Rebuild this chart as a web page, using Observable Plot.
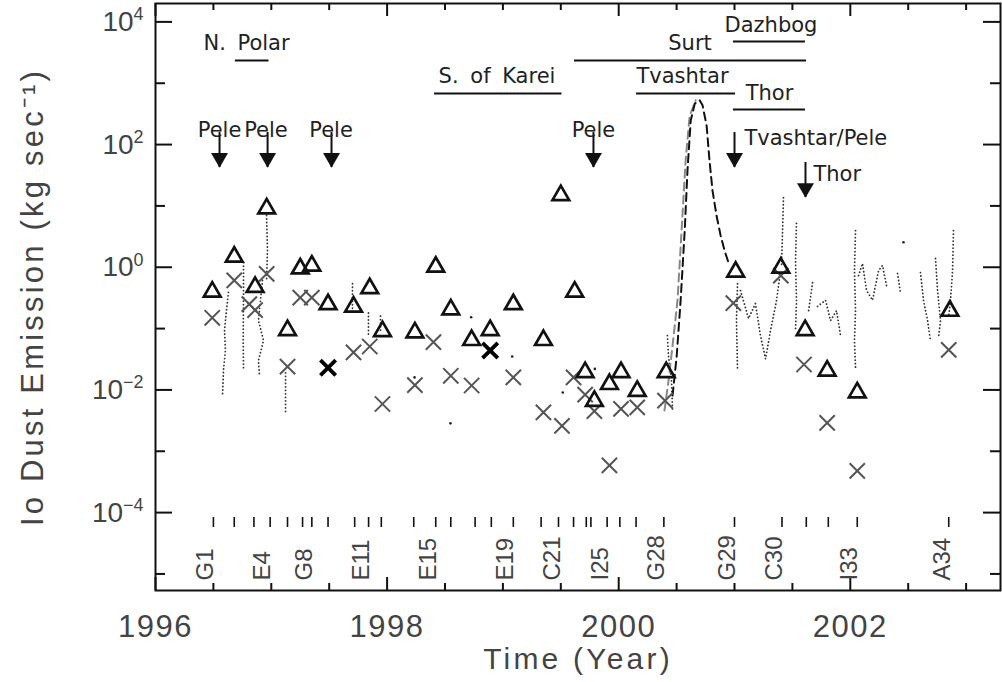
<!DOCTYPE html>
<html><head><meta charset="utf-8">
<script src="https://cdn.jsdelivr.net/npm/d3@7"></script>
<script src="https://cdn.jsdelivr.net/npm/@observablehq/plot@0.6"></script>
<style>
html,body{margin:0;padding:0;background:#fff;}
#chart svg{display:block;}
</style></head><body><div id="chart"></div>
<script>
// ---------- axis ticks ----------
const yTickMajor = [1e4, 1e2, 1, 1e-2, 1e-4];
const yTickMinor = [1e3, 10, 1e-1, 1e-3, 1e-5];
const xTickMajor = [1996, 1998, 2000, 2002];
const xTickMinor = [1996.5, 1997, 1997.5, 1998.5, 1999, 1999.5, 2000.5, 2001, 2001.5, 2002.5, 2003];

// ---------- Galileo encounters ----------
const encounterYears = [1996.50,1996.68,1996.85,1996.99,1997.14,1997.27,1997.35,1997.49,1997.72,1997.84,1997.95,
  1998.23,1998.42,1998.55,1998.76,1998.90,1999.09,1999.33,1999.48,1999.61,1999.72,1999.76,1999.90,2000.01,2000.15,
  2000.39,2001.00,2001.41,2001.62,2001.81,2002.06,2002.85];
const encounterLabels = ["G1","E4","G8","E11","E15","E19","C21","I25","G28","G29","C30","I33","A34"];
const encounterLabelYears = [1996.50,1996.99,1997.35,1997.84,1998.42,1999.09,1999.49,1999.91,2000.39,2001.00,2001.41,2002.06,2002.86];

// ---------- triangles (upper estimates) ----------
const triYears = [1996.49,1996.68,1996.86,1996.96,1997.14,1997.25,1997.35,1997.49,1997.71,1997.85,1997.96,
  1998.24,1998.42,1998.55,1998.73,1998.89,1999.09,1999.35,1999.50,1999.62,1999.71,1999.79,1999.92,2000.02,2000.16,
  2000.41,2001.01,2001.40,2001.61,2001.80,2002.06,2002.86];
const triValues = [0.37,1.37,0.44,8.4,0.087,0.88,0.98,0.23,0.21,0.42,0.084,
  0.08,0.94,0.19,0.06,0.087,0.23,0.06,13.8,0.37,0.018,0.0061,0.0115,0.018,0.0089,
  0.018,0.78,0.91,0.087,0.019,0.0084,0.18];

// ---------- crosses (lower estimates) ----------
const crossYears = [1996.49,1996.68,1996.81,1996.86,1996.96,1997.14,1997.25,1997.35,1997.49,1997.71,1997.85,1997.96,
  1998.24,1998.40,1998.55,1998.73,1998.89,1999.09,1999.35,1999.51,1999.61,1999.71,1999.79,1999.92,2000.02,2000.16,
  2000.40,2000.99,2001.40,2001.60,2001.80,2002.06,2002.85];
const crossValues = [0.15,0.61,0.25,0.20,0.78,0.024,0.32,0.32,0.023,0.041,0.051,0.0059,
  0.012,0.06,0.017,0.0118,0.044,0.016,0.0043,0.0026,0.016,0.0084,0.0045,0.00059,0.0049,0.0052,
  0.0067,0.26,0.73,0.026,0.0029,0.00048,0.045];
const boldCrossYears = [1997.49, 1998.89];

// ---------- high-resolution dust stream traces (dotted) ----------
const dustTraces = [
  [[1996.630,0.39],[1996.613,0.20],[1996.596,0.093],[1996.604,0.044],[1996.587,0.021],[1996.579,0.0087]],
  [[1996.760,1.19],[1996.760,0.29],[1996.757,0.064],[1996.760,0.022]],
  [[1996.924,0.61],[1996.889,0.135],[1996.933,0.064],[1996.889,0.030],[1996.898,0.017]],
  [[1996.959,7.0],[1996.967,1.87],[1996.959,0.61]],
  [[1997.123,0.019],[1997.123,0.0041]],
  [[1997.701,0.54],[1997.701,0.18]],
  [[1997.839,0.18],[1997.839,0.077]],
  [[1997.943,0.16],[1997.943,0.093]],
  [[2000.421,0.077],[2000.430,0.036],[2000.456,0.014],[2000.465,0.0046]],
  [[2001.026,0.54],[2001.017,0.135],[2001.026,0.0207]],
  [[2001.052,0.417],[2001.121,0.146],[2001.181,0.256],[2001.224,0.077],[2001.268,0.032],[2001.311,0.093],[2001.363,0.287],[2001.397,0.88]],
  [[2001.423,13.6],[2001.415,3.96],[2001.406,1.07]],
  [[2001.535,5.2],[2001.527,1.29],[2001.535,0.29],[2001.527,0.093]],
  [[2001.674,0.56],[2001.640,0.195]],
  [[2001.717,0.23],[2001.786,0.29],[2001.829,0.135],[2001.881,0.196],[2001.916,0.077]],
  [[2002.045,3.96],[2002.036,0.88],[2002.045,0.197],[2002.036,0.064],[2002.045,0.023]],
  [[2002.071,0.73],[2002.105,1.15],[2002.140,0.42],[2002.192,0.29],[2002.244,0.88],[2002.278,1.07],[2002.313,0.50]],
  [[2002.408,0.79],[2002.433,0.386]],
  [[2002.606,0.82],[2002.632,0.29],[2002.667,0.135],[2002.692,0.064]],
  [[2002.736,1.39],[2002.753,0.42],[2002.779,0.135],[2002.762,0.071]],
  [[2002.891,3.96],[2002.883,0.88],[2002.865,0.29],[2002.848,0.151]]
];
const dustSingles = [[1998.726,0.153],[1998.547,0.00285],[1999.080,0.035],[1998.237,0.016],[1999.517,0.0091],[1999.794,0.022],[2002.459,2.56]];

// ---------- 2000 dust storm (dashed) ----------
const stormBlack = [[2000.465,0.0081],[2000.50,0.034],[2000.535,0.29],[2000.57,3.96],[2000.594,38],[2000.622,246],[2000.657,467],[2000.70,525],
  [2000.724,436],[2000.759,205],[2000.784,55],[2000.81,17.8],[2000.845,6.9],[2000.88,3.3],[2000.914,1.87],[2000.948,1.19]];
const stormGray = [[2000.395,0.0046],[2000.43,0.014],[2000.465,0.053],[2000.508,0.29],[2000.543,3.96],[2000.578,55],[2000.613,296],[2000.665,525]];

// ---------- volcano activity annotations ----------
const spanNames = ["N. Polar","S. of Karei","Surt","Tvashtar","Dazhbog","Thor"];
const spanStart = [1996.69,1998.41,1999.618,2000.154,2000.991,2000.991];
const spanEnd   = [1996.98,1999.51,2001.622,2001.009,2001.613,2001.613];
const spanLevel = [2355,682,2355,682,4808,374];
const spanTextYear = [1996.786,1998.949,2000.616,2000.551,2001.315,2001.302];
const spanTextLevel = [3428,1000,3428,1000,6745,525];

const arrowYears  = [1996.553,1996.968,1997.520,1999.782,2001.000,2001.613];
const arrowTop    = [157,157,157,157,157,51];
const arrowBottom = [42.3,42.3,42.3,42.3,42.3,13.7];
const arrowLabels = ["Pele","Pele","Pele","Pele","Tvashtar/Pele","Thor"];
const arrowLabelYears  = [1996.553,1996.954,1997.516,1999.782,2001.086,2001.682];
const arrowLabelLevels = [131,131,131,131,96.6,25.9];
const arrowLabelAnchor = ["middle","middle","middle","middle","start","start"];

// ---------- build tables ----------
const triangles = triYears.map((x,i)=>({x, y: triValues[i]}));
const crosses = crossYears.map((x,i)=>({x, y: crossValues[i], bold: boldCrossYears.includes(x)}));
const traces = dustTraces.flatMap((t,k)=>t.map(([x,y])=>({x,y,k})));
const singles = dustSingles.map(([x,y])=>({x,y}));
const sBlack = stormBlack.map(([x,y])=>({x,y}));
const sGray = stormGray.map(([x,y])=>({x,y}));
const spans = spanNames.map((name,i)=>({name, x1: spanStart[i], x2: spanEnd[i], y: spanLevel[i], tx: spanTextYear[i], ty: spanTextLevel[i]}));
const arrows = arrowYears.map((x,i)=>({x, top: arrowTop[i], bottom: arrowBottom[i]}));
const arrowText = arrowLabels.map((t,i)=>({t, x: arrowLabelYears[i], y: arrowLabelLevels[i], a: arrowLabelAnchor[i]}));
const encLabels = encounterLabels.map((t,i)=>({t, x: encounterLabelYears[i]}));

const W = 1002, H = 682, mL = 155, mR = 2, mT = 3, mB = 92;
const plotW = W - mL - mR, plotH = H - mT - mB;
const axisFont = "'Liberation Sans', Arial, Helvetica, sans-serif";
const annFont = "'DejaVu Sans', Verdana, sans-serif";
const axisColor = "#444";
const xTitle = "Time (Year)";
const yTitle = "Io Dust Emission (kg sec\u207B\u00B9)";
const expLabel = d => "10^{" + String(Math.round(Math.log10(d))).replace("-", "\u2212") + "}";

const chart = Plot.plot({
  width: W, height: H,
  marginLeft: mL, marginRight: mR, marginTop: mT, marginBottom: mB,
  style: {background: "#fff", fontFamily: axisFont},
  x: {domain: [1996, 2003.297], axis: null},
  y: {type: "log", domain: [5.37e-6, 1.995e4], axis: null},
  marks: [
    // frame ticks (inside, mirrored)
    Plot.tickY(yTickMajor, {y: d=>d, insetRight: plotW-17, stroke: "#111", strokeWidth: 2}),
    Plot.tickY(yTickMajor, {y: d=>d, insetLeft: plotW-17, stroke: "#111", strokeWidth: 2}),
    Plot.tickY(yTickMinor, {y: d=>d, insetRight: plotW-10, stroke: "#111", strokeWidth: 2}),
    Plot.tickY(yTickMinor, {y: d=>d, insetLeft: plotW-10, stroke: "#111", strokeWidth: 2}),
    Plot.tickX(xTickMajor, {x: d=>d, insetTop: plotH-13, stroke: "#111", strokeWidth: 2}),
    Plot.tickX(xTickMajor, {x: d=>d, insetBottom: plotH-13, stroke: "#111", strokeWidth: 2}),
    Plot.tickX(xTickMinor, {x: d=>d, insetTop: plotH-7, stroke: "#111", strokeWidth: 2}),
    Plot.tickX(xTickMinor, {x: d=>d, insetBottom: plotH-7, stroke: "#111", strokeWidth: 2}),
    // tick labels
    Plot.text(yTickMajor, {y: d=>d, frameAnchor: "left", dx: -12, textAnchor: "end", text: expLabel,
      fontSize: 28, fill: axisColor}),
    Plot.text(xTickMajor, {x: d=>d, frameAnchor: "bottom", dy: 46, text: d=>String(d),
      fontSize: 31, fill: axisColor}),
    Plot.text([xTitle], {frameAnchor: "bottom", dy: 78, text: d=>d, fontSize: 30, fill: axisColor}),
    Plot.text([yTitle], {frameAnchor: "left", dx: -122, rotate: -90, textAnchor: "middle", text: d=>d,
      fontSize: 31, fill: axisColor}),
    // encounter markers
    Plot.tickX(encounterYears, {x: d=>d, insetTop: 514, insetBottom: 63, stroke: "#111", strokeWidth: 1.6}),
    Plot.text(encLabels, {x: "x", text: "t", frameAnchor: "bottom", dy: -10, rotate: -90, textAnchor: "start",
      fontSize: 24, fill: axisColor}),
    // dotted high-resolution traces
    Plot.line(traces, {x: "x", y: "y", z: "k", stroke: "#333", strokeWidth: 1.8, strokeDasharray: "0.1,3.4", strokeLinecap: "round", curve: "linear"}),
    Plot.dot(singles, {x: "x", y: "y", r: 1.3, fill: "#222"}),
    // dashed storm
    Plot.line(sGray, {x: "x", y: "y", stroke: "#888", strokeWidth: 2, strokeDasharray: "8,5"}),
    Plot.line(sBlack, {x: "x", y: "y", stroke: "#111", strokeWidth: 2, strokeDasharray: "8,5"}),
    // symbols
    Plot.dot(crosses.filter(d=>!d.bold), {x: "x", y: "y", symbol: "times", r: 7, stroke: "#555", strokeWidth: 2}),
    Plot.dot(crosses.filter(d=>d.bold), {x: "x", y: "y", symbol: "times", r: 7, stroke: "#000", strokeWidth: 3.8}),
    Plot.dot(triangles, {x: "x", y: "y", symbol: "triangle", r: 6.2, dy: -2, stroke: "#111", strokeWidth: 2.7, fill: "none"}),
    // annotations
    Plot.ruleY(spans, {y: "y", x1: "x1", x2: "x2", stroke: "#111", strokeWidth: 2}),
    Plot.text(spans, {x: "tx", y: "ty", text: "name", lineAnchor: "bottom", fontSize: 21, fontFamily: annFont, fill: "#222"}),
    Plot.ruleX(arrows, {x: "x", y1: "top", y2: "bottom", stroke: "#111", strokeWidth: 2}),
    Plot.dot(arrows, {x: "x", y: "bottom", symbol: "triangle", rotate: 180, r: 6.3, dy: -9.5, fill: "#111", stroke: "none"}),
    Plot.text(arrowText.filter(d=>d.a==="middle"), {x: "x", y: "y", text: "t", lineAnchor: "bottom", fontSize: 21, fontFamily: annFont, fill: "#222"}),
    Plot.text(arrowText.filter(d=>d.a==="start"), {x: "x", y: "y", text: "t", textAnchor: "start", lineAnchor: "bottom", fontSize: 21, fontFamily: annFont, fill: "#222"}),
    Plot.frame({stroke: "#111", strokeWidth: 2})
  ]
});
document.getElementById("chart").appendChild(chart);

// text post-processing: superscript tspans on tick labels, spacing on titles
(function finish(svg){
  const ns = "http://www.w3.org/2000/svg";
  svg.querySelectorAll("text").forEach(t => {
    const s = t.textContent;
    if (s === xTitle || s === yTitle) { t.style.letterSpacing = "3.2px"; return; }
    if (spanNames.includes(s)) { t.style.wordSpacing = "5px"; return; }
    if (/^\d{4}$/.test(s)) { t.style.letterSpacing = "1.5px"; return; }
    if (!s.includes("^{")) return;
    const fs = parseFloat(getComputedStyle(t).fontSize) || 28;
    const shift = 0.38 * fs;
    const m = s.match(/^(.*)\^\{([^}]*)\}$/);
    if (!m) return;
    t.textContent = m[1];
    const ts = document.createElementNS(ns, "tspan");
    ts.textContent = m[2];
    ts.setAttribute("font-size", (0.64*fs) + "px");
    ts.setAttribute("dy", (-shift) + "px");
    t.appendChild(ts);
  });
})(chart);
</script></body></html>
